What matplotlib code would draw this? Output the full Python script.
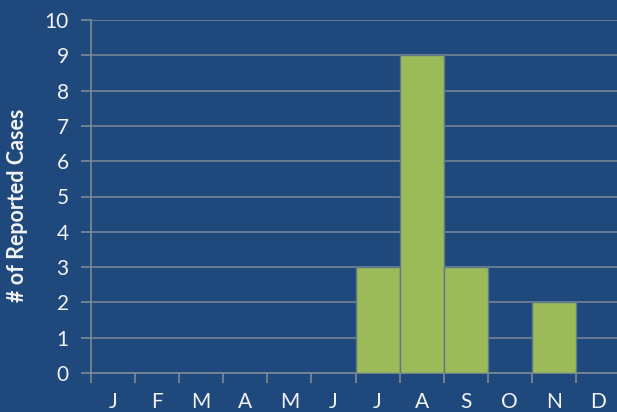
import matplotlib
matplotlib.use('Agg')
import matplotlib.pyplot as plt
import numpy as np

months = ['J', 'F', 'M', 'A', 'M', 'J', 'J', 'A', 'S', 'O', 'N', 'D']
cases = [0, 0, 0, 0, 0, 0, 3, 9, 3, 0, 2, 0]
y_ticks = list(range(0, 11))

bg = '#1F497D'
bar_col = '#9BBB59'
grid_col = '#7F8A99'
text_col = '#F2F2F2'

plt.rcParams['font.family'] = ['Lato', 'DejaVu Sans']

fig = plt.figure(figsize=(6.17, 4.12), dpi=100)
fig.patch.set_facecolor(bg)
ax = fig.add_axes([91 / 617, 1 - 373 / 412, 529 / 617, 353 / 412])
ax.set_facecolor(bg)

x = np.arange(len(months))
ax.bar(x, cases, width=1.0, color=bar_col, edgecolor='#5B7A8C', linewidth=1.0, zorder=3)

ax.set_xlim(-0.5, len(months) - 0.5)
ax.set_ylim(0, 10)
ax.set_yticks(y_ticks)
ax.yaxis.grid(True, color=grid_col, linewidth=1.1, zorder=1)
ax.set_axisbelow(True)

# labels at month centres, tick marks on the month boundaries
ax.set_xticks(x)
ax.set_xticklabels(months)
ax.set_xticks(np.arange(len(months) + 1) - 0.5, minor=True)
ax.tick_params(axis='x', which='major', length=0, pad=14, labelsize=15, labelcolor=text_col)
ax.tick_params(axis='x', which='minor', length=7, width=1.2, color=grid_col)
ax.tick_params(axis='y', length=7, width=1.2, color=grid_col, pad=9, labelsize=15, labelcolor=text_col)

for side in ['top', 'right']:
    ax.spines[side].set_visible(False)
for side in ['left', 'bottom']:
    ax.spines[side].set_color(grid_col)
    ax.spines[side].set_linewidth(1.2)

fig.text(18 / 617, 1 - 205 / 412, '# of Reported Cases', rotation=90, ha='center', va='center',
         fontsize=15.5, fontweight='bold', color=text_col)

fig.savefig('out.png', dpi=100, facecolor=bg)
